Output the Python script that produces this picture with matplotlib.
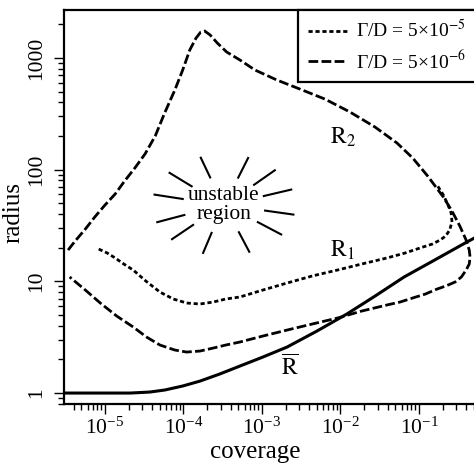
import numpy as np
import matplotlib
matplotlib.use("Agg")
import matplotlib.pyplot as plt
from matplotlib.ticker import LogLocator, NullFormatter

plt.rcParams['font.family'] = 'serif'
plt.rcParams['font.serif'] = ['Liberation Serif', 'DejaVu Serif']
plt.rcParams['mathtext.fontset'] = 'stix'

# exponents: log10(coverage), log10(radius)
rbar_logc = [-5.52, -5.00, -4.68, -4.43, -4.24, -4.01, -3.79, -3.54, -3.28, -2.99,
             -2.68, -2.30, -1.92, -1.56, -1.19, -0.80, -0.39, -0.27]
rbar_logr = [0.000, 0.000, 0.000, 0.009, 0.027, 0.063, 0.107, 0.170, 0.242, 0.322,
             0.412, 0.555, 0.707, 0.868, 1.039, 1.191, 1.352, 1.397]

# Gamma/D = 5e-6 (dashed): upper branch R2 -> turning point -> lower branch R1
dash_logc = [-5.47, -5.38, -5.25, -5.13, -5.00, -4.87, -4.75, -4.62, -4.49, -4.36,
             -4.24, -4.11, -4.01, -3.92, -3.84, -3.78, -3.73, -3.66, -3.57, -3.45,
             -3.28, -3.09, -2.81, -2.52, -2.20, -1.88, -1.56, -1.28, -1.08, -0.89,
             -0.69, -0.58, -0.48, -0.40, -0.36, -0.35, -0.36, -0.40, -0.46, -0.54,
             -0.66, -0.77, -0.92, -1.08, -1.24, -1.41, -1.73, -2.04, -2.36, -2.68,
             -2.99, -3.28, -3.46, -3.62, -3.79, -3.96, -4.11, -4.30, -4.47, -4.64,
             -4.85, -5.06, -5.25, -5.45]
dash_logr = [1.280, 1.361, 1.468, 1.576, 1.683, 1.782, 1.898, 2.014, 2.140, 2.301,
             2.507, 2.713, 2.892, 3.071, 3.178, 3.232, 3.241, 3.205, 3.134, 3.053,
             2.981, 2.892, 2.802, 2.722, 2.632, 2.516, 2.381, 2.238, 2.104, 1.943,
             1.755, 1.629, 1.495, 1.370, 1.280, 1.218, 1.155, 1.101, 1.039, 0.994,
             0.958, 0.931, 0.886, 0.851, 0.815, 0.788, 0.734, 0.671, 0.618, 0.564,
             0.510, 0.457, 0.430, 0.403, 0.376, 0.367, 0.385, 0.430, 0.501, 0.591,
             0.689, 0.806, 0.922, 1.039]

# Gamma/D = 5e-5 (dotted)
dot_logc = [-5.08, -4.97, -4.87, -4.76, -4.64, -4.48, -4.30, -4.13, -3.96, -3.79,
            -3.62, -3.46, -3.28, -2.99, -2.68, -2.36, -2.04, -1.73, -1.41, -1.18,
            -0.99, -0.83, -0.73, -0.66, -0.61, -0.58, -0.59, -0.63, -0.69, -0.77]
dot_logr = [1.289, 1.253, 1.209, 1.155, 1.101, 1.003, 0.904, 0.842, 0.806, 0.797,
            0.815, 0.842, 0.860, 0.922, 0.985, 1.048, 1.101, 1.155, 1.209, 1.253,
            1.298, 1.334, 1.370, 1.406, 1.459, 1.531, 1.611, 1.683, 1.773, 1.862]

legend_labels = ['Γ/D = 5×10$^{-5}$', 'Γ/D = 5×10$^{-6}$']
burst_angles = [140, 109, 70, 44, 18, -11, -36, -69, -107, -137, -160, 168]

fig = plt.figure(figsize=(4.74, 4.66), dpi=100)
ax = fig.add_axes([64 / 474, 62 / 466, 412 / 474, 394 / 466])

ax.plot(10 ** np.array(dot_logc), 10 ** np.array(dot_logr), color='black', lw=2.0,
        linestyle=(0, (1.5, 1.0)), label=legend_labels[0])
ax.plot(10 ** np.array(dash_logc), 10 ** np.array(dash_logr), color='black', lw=2.0,
        linestyle=(0, (3.5, 1.2)), label=legend_labels[1])
ax.plot(10 ** np.array(rbar_logc), 10 ** np.array(rbar_logr), color='black', lw=2.2)

ax.set_xscale('log')
ax.set_yscale('log')
ax.set_xlim(10 ** -5.522, 10 ** -0.274)
ax.set_ylim(10 ** -0.098, 10 ** 3.429)

ax.xaxis.set_major_locator(LogLocator(base=10, numticks=10))
ax.xaxis.set_minor_locator(LogLocator(base=10, subs=np.arange(2, 10), numticks=20))
ax.xaxis.set_minor_formatter(NullFormatter())
ax.set_yticks([1, 10, 100, 1000])
ax.set_yticklabels(['1', '10', '100', '1000'], rotation=90, va='center')
ax.yaxis.set_minor_locator(LogLocator(base=10, subs=np.arange(2, 10), numticks=20))
ax.yaxis.set_minor_formatter(NullFormatter())

ax.tick_params(which='both', direction='out', width=1.0, labelsize=15.5, top=False, right=False)
ax.tick_params(which='major', length=7)
ax.tick_params(which='minor', length=4)
ax.tick_params(axis='x', pad=3)
ax.tick_params(axis='y', pad=6)

for s in ['left', 'bottom', 'top']:
    ax.spines[s].set_linewidth(1.6)
ax.spines['right'].set_visible(False)

ax.set_xlabel('coverage', fontsize=18)
ax.set_ylabel('radius', fontsize=18)
ax.xaxis.set_label_coords(0.464, -0.093)
ax.yaxis.set_label_coords(-0.095, 0.485)

ax.text(10 ** -1.97, 10 ** 2.29, r'$\mathrm{R}_2$', fontsize=17, ha='center', va='center')
ax.text(10 ** -1.98, 10 ** 1.28, r'$\mathrm{R}_1$', fontsize=17, ha='center', va='center')
ax.text(10 ** -2.64, 10 ** 0.23, r'$\overline{\mathrm{R}}$', fontsize=17, ha='center', va='center')

# sunburst round the "unstable region" label
cx, cy = 0.388, 0.505
for a in burst_angles:
    t = np.deg2rad(a)
    ax.plot([cx + 0.102 * np.cos(t), cx + 0.172 * np.cos(t)],
            [cy + 0.074 * np.sin(t), cy + 0.127 * np.sin(t)],
            transform=ax.transAxes, color='black', lw=1.5)
ax.text(cx, cy, 'unstable\nregion', transform=ax.transAxes, fontsize=15.5,
        ha='center', va='center', linespacing=0.95)

leg = ax.legend(loc='upper right', borderaxespad=0, fontsize=14, handlelength=2.0,
                handletextpad=0.5, fancybox=False, framealpha=1, edgecolor='black',
                borderpad=0.5, labelspacing=0.4)
leg.get_frame().set_linewidth(1.6)

fig.savefig('out.png', dpi=100)
